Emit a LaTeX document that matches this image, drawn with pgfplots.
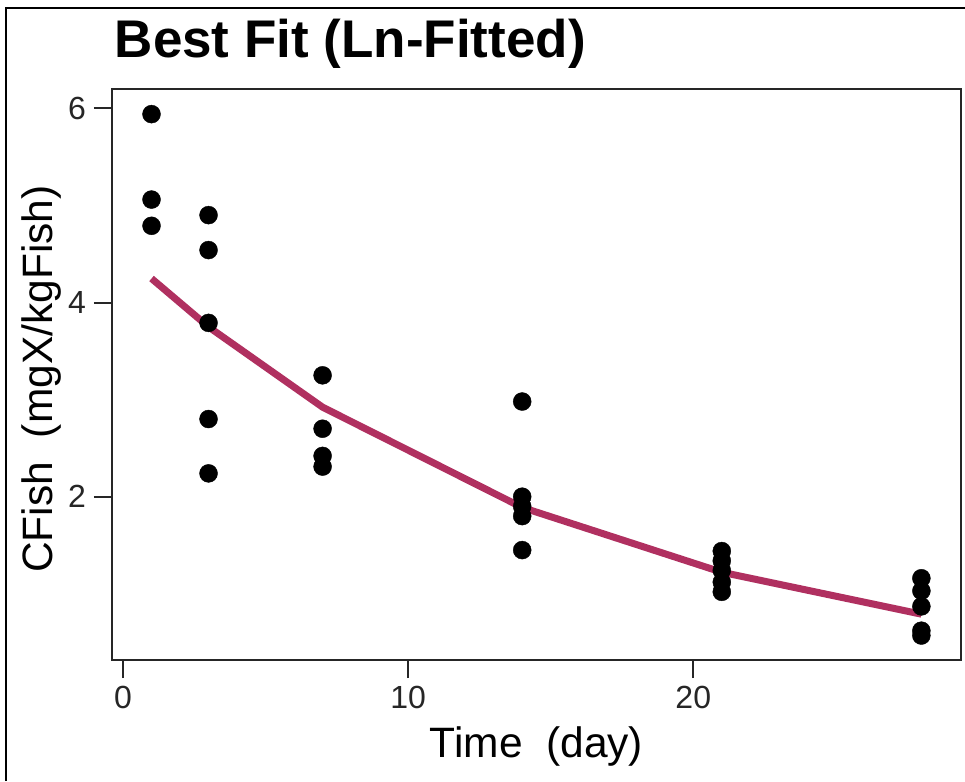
\documentclass[border=0pt]{standalone}
\usepackage{fontspec}
\setmainfont{Liberation Sans}
\usepackage{pgfplots}
\pgfplotsset{compat=1.18}
\definecolor{rmaroon}{HTML}{B03060}
\begin{document}
\begin{tikzpicture}
\useasboundingbox (0pt,0pt) rectangle (965pt,781pt);
\fill[white] (0pt,0pt) rectangle (965pt,781pt);
\draw[line width=2pt, black] (6pt,0pt) -- (6pt,773pt) -- (965pt,773pt);
\begin{axis}[
  at={(112pt,121pt)}, anchor=south west,
  scale only axis, width=849pt, height=571pt,
  xmin=-0.386, xmax=29.39, ymin=0.318, ymax=6.199,
  axis line style={line width=2pt, black!85},
  xtick={0,10,20}, ytick={2,4,6},
  xtick pos=bottom, ytick pos=left,
  tick align=outside, major tick length=18pt,
  tick style={line width=2pt, black!85},
  /pgf/number format/assume math mode=true,
  ticklabel style={font=\fontsize{32}{38}\selectfont, text=black!85},
  xticklabel style={inner sep=0pt, yshift=-8pt},
  yticklabel style={inner sep=0pt, xshift=-8pt},
  xlabel={Time\ \ (day)}, ylabel={CFish\ \ (mgX/kgFish)},
  label style={font=\fontsize{42.5}{50}\selectfont},
  xlabel style={at={(axis description cs:0.5,-0.170)}, anchor=base, inner sep=0pt},
  ylabel style={at={(axis description cs:-0.0695,0.492)}, anchor=base, inner sep=0pt},
  title={\bfseries Best Fit (Ln-Fitted)},
  every axis title shift=0pt,
  title style={font=\fontsize{53}{62}\selectfont, at={(axis description cs:0.003,1.0543)}, anchor=base west, inner sep=0pt},
  clip=false,
]
\addplot[only marks, mark=*, mark size=9pt, mark options={fill=black, draw=black}] coordinates {
 (1,5.94) (1,5.06) (1,4.79)
 (3,4.90) (3,4.54) (3,3.79) (3,2.80) (3,2.24)
 (7,3.25) (7,2.70) (7,2.42) (7,2.31)
 (14,2.98) (14,2.00) (14,1.90) (14,1.80) (14,1.45)
 (21,1.44) (21,1.34) (21,1.24) (21,1.12) (21,1.02)
 (28,1.16) (28,1.03) (28,0.87) (28,0.62) (28,0.57)
};
\addplot[rmaroon, line width=7pt, line join=round] coordinates {
 (1,4.247) (3,3.749) (7,2.922) (14,1.889) (21,1.222) (28,0.790)
};
\end{axis}
\end{tikzpicture}
\end{document}
